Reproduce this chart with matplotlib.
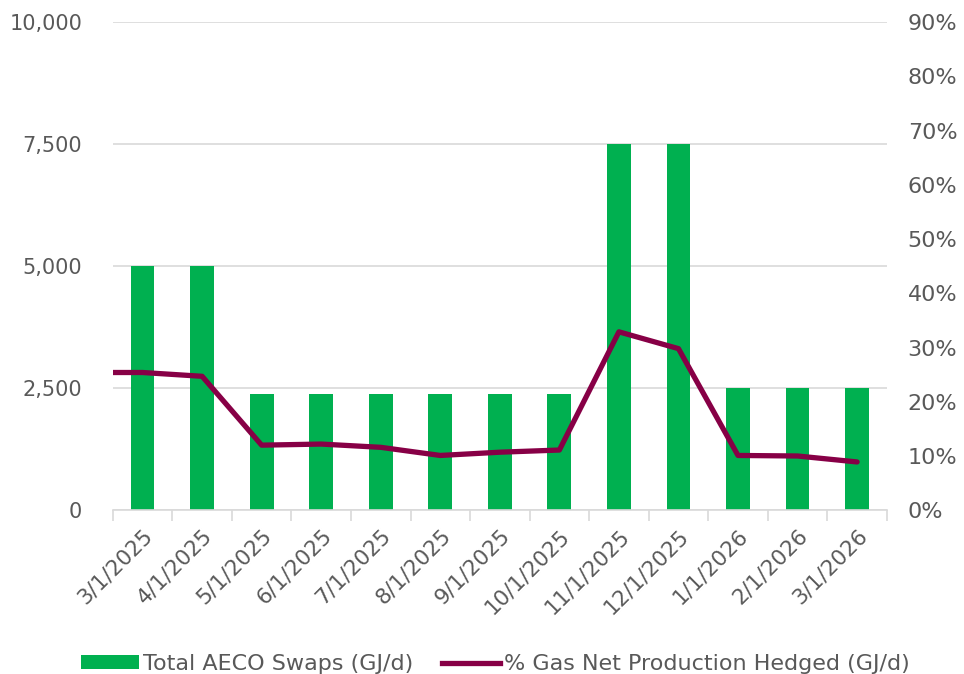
import numpy as np
import matplotlib.pyplot as plt
from matplotlib.ticker import FuncFormatter, FixedLocator
from matplotlib.patches import Patch
from matplotlib.lines import Line2D

# 月度对冲数据
months = ['3/1/2025', '4/1/2025', '5/1/2025', '6/1/2025', '7/1/2025', '8/1/2025',
          '9/1/2025', '10/1/2025', '11/1/2025', '12/1/2025', '1/1/2026', '2/1/2026', '3/1/2026']
aeco_swaps = [5000, 5000, 2375, 2375, 2375, 2375, 2375, 2375, 7500, 7500, 2500, 2500, 2500]
pct_hedged = [25.4, 24.7, 12.0, 12.2, 11.6, 10.1, 10.7, 11.1, 32.9, 29.8, 10.1, 10.0, 8.9]

green = '#00B050'
maroon = '#870046'
grey_txt = '#595959'
grid_c = '#D9D9D9'

plt.rcParams['font.family'] = ['DejaVu Sans']

fig = plt.figure(figsize=(9.64, 6.74), dpi=100)
ax = fig.add_axes([0.117, 0.243, 0.803, 0.724])
ax2 = ax.twinx()

x = np.arange(len(months))
ax.bar(x, aeco_swaps, width=0.4, color=green, zorder=2)

ax.set_xlim(-0.5, len(months) - 0.5)
ax.set_ylim(0, 10000)
ax.set_yticks([0, 2500, 5000, 7500, 10000])
ax.yaxis.set_major_formatter(FuncFormatter(lambda v, p: f'{v:,.0f}'))
ax.grid(axis='y', color=grid_c, linewidth=1.2, zorder=0)
ax.set_axisbelow(True)

# 折线从左边缘开始（同首个数值）
line_x = np.r_[-0.5, x]
line_y = np.r_[pct_hedged[0], pct_hedged]
ax2.plot(line_x, line_y, color=maroon, linewidth=3.8, solid_capstyle='round',
         solid_joinstyle='round', zorder=3)
ax2.set_ylim(0, 90)
ax2.set_yticks(range(0, 91, 10))
ax2.yaxis.set_major_formatter(FuncFormatter(lambda v, p: f'{v:.0f}%'))

ax.set_xticks(x)
ax.set_xticklabels(months, rotation=45, ha='right', rotation_mode='anchor')
ax.xaxis.set_minor_locator(FixedLocator(np.arange(-0.5, len(months), 1)))
ax.tick_params(axis='x', which='major', length=0, pad=11, labelsize=15.5, labelcolor=grey_txt)
ax.tick_params(axis='x', which='minor', length=8, color=grid_c, width=1.2)
ax.tick_params(axis='y', length=0, pad=22, labelsize=15, labelcolor=grey_txt)
ax2.tick_params(axis='y', length=0, pad=15, labelsize=16, labelcolor=grey_txt)

for a in (ax, ax2):
    for s in ('top', 'left', 'right'):
        a.spines[s].set_visible(False)
    a.spines['bottom'].set_color(grid_c)
    a.spines['bottom'].set_linewidth(1.2)
ax2.spines['bottom'].set_visible(False)

handles = [Patch(facecolor=green, edgecolor='none'),
           Line2D([0], [0], color=maroon, linewidth=3.8)]
labels = ['Total AECO Swaps (GJ/d)', '% Gas Net Production Hedged (GJ/d)']
fig.legend(handles, labels, loc='lower center', bbox_to_anchor=(0.514, -0.03), ncol=2,
           frameon=False, fontsize=16, labelcolor=grey_txt, handlelength=2.6,
           handleheight=0.6, columnspacing=1.3, handletextpad=0.2)

fig.savefig('out.png', dpi=100)
